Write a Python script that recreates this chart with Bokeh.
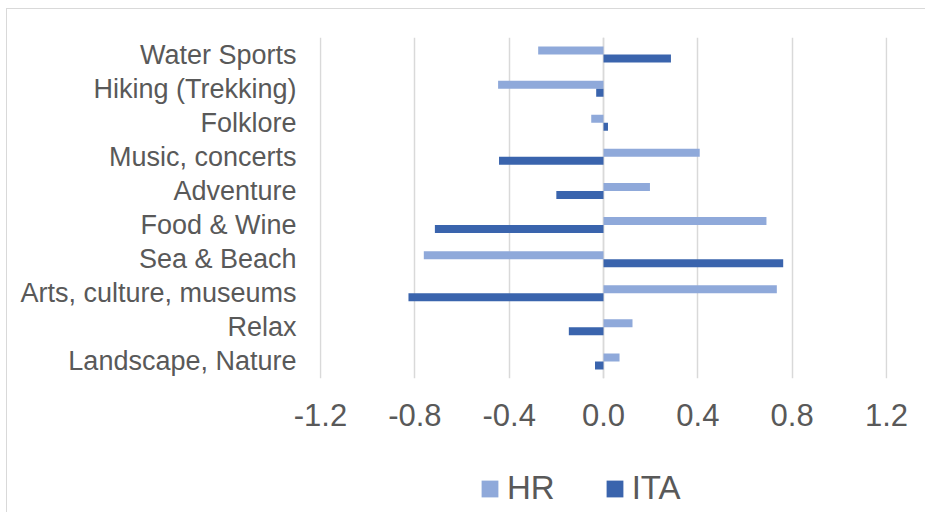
from bokeh.plotting import figure
from bokeh.layouts import column
from bokeh.models import (FactorRange, Range1d, FixedTicker, NumeralTickFormatter,
                          Span, Legend, LegendItem, ColumnDataSource)
from bokeh.transform import dodge
from bokeh.embed import file_html
from bokeh.resources import INLINE

# Data (bottom to top order as displayed)
categories = ["Landscape, Nature", "Relax", "Arts, culture, museums", "Sea & Beach",
              "Food & Wine", "Adventure", "Music, concerts", "Folklore",
              "Hiking (Trekking)", "Water Sports"]
hr_values = [0.068, 0.123, 0.735, -0.762, 0.691, 0.197, 0.408, -0.052, -0.447, -0.277]
ita_values = [-0.036, -0.147, -0.827, 0.762, -0.715, -0.200, -0.443, 0.019, -0.031, 0.286]
x_ticks = [-1.2, -0.8, -0.4, 0.0, 0.4, 0.8, 1.2]
series_names = ["HR", "ITA"]

HR_COLOR = "#8FA9DA"
ITA_COLOR = "#3A64AD"
TEXT_COLOR = "#595959"
GRID_COLOR = "#D9D9D9"
FONT = "Liberation Sans"

source = ColumnDataSource(dict(cat=categories, hr=hr_values, ita=ita_values))

edge_pad = 0.0043  # lets the outer gridlines show fully
p = figure(width=918, height=431, output_backend="svg", toolbar_location=None,
           y_range=FactorRange(factors=categories, range_padding=0, factor_padding=0),
           x_range=Range1d(x_ticks[0] - edge_pad, x_ticks[-1] + edge_pad),
           min_border_left=312, min_border_top=28, min_border_right=38, min_border_bottom=62)
p.outline_line_color = None
p.background_fill_color = "white"
p.border_fill_color = "white"

bar_h = 0.234
p.hbar(y=dodge("cat", bar_h / 2, range=p.y_range), left=0, right="hr", height=bar_h,
       source=source, fill_color=HR_COLOR, line_color=None)
p.hbar(y=dodge("cat", -bar_h / 2, range=p.y_range), left=0, right="ita", height=bar_h,
       source=source, fill_color=ITA_COLOR, line_color=None)

zero = Span(location=0, dimension="height", line_color=GRID_COLOR, line_width=1.5, level="underlay")
p.add_layout(zero)

# grid
p.ygrid.grid_line_color = None
p.xgrid.grid_line_color = GRID_COLOR
p.xgrid.grid_line_width = 1.5
p.xgrid.ticker = FixedTicker(ticks=x_ticks)

# x axis
xa = p.xaxis[0]
xa.ticker = FixedTicker(ticks=x_ticks)
xa.formatter = NumeralTickFormatter(format="0.0")
xa.axis_line_color = None
xa.major_tick_line_color = None
xa.minor_tick_line_color = None
xa.major_tick_out = 0
xa.major_tick_in = 0
xa.major_label_standoff = 25
xa.major_label_text_font = FONT
xa.major_label_text_font_size = "31px"
xa.major_label_text_color = TEXT_COLOR

# y axis
ya = p.yaxis[0]
ya.axis_line_color = None
ya.major_tick_line_color = None
ya.minor_tick_line_color = None
ya.major_tick_out = 0
ya.major_tick_in = 0
ya.major_label_standoff = 23
ya.major_label_text_font = FONT
ya.major_label_text_font_size = "27px"
ya.major_label_text_color = TEXT_COLOR

# legend strip below the chart (same chart box)
lg = figure(width=918, height=72, output_backend="svg", toolbar_location=None,
            x_axis_type=None, y_axis_type=None, min_border=0,
            x_range=Range1d(0, 1), y_range=Range1d(0, 1))
lg.outline_line_color = None
lg.grid.grid_line_color = None
lg.border_fill_color = "white"
# zero-width placeholder renderers that only carry the legend swatch styles
lg_hr = lg.hbar(y=[0.5], left=[0], right=[0], height=0.1, fill_color=HR_COLOR, line_color=None)
lg_ita = lg.hbar(y=[0.5], left=[0], right=[0], height=0.1, fill_color=ITA_COLOR, line_color=None)

legend = Legend(items=[LegendItem(label=series_names[0], renderers=[lg_hr]),
                       LegendItem(label=series_names[1], renderers=[lg_ita])],
                location=(160, 5), orientation="horizontal",
                glyph_width=21, glyph_height=21, label_standoff=7, spacing=49,
                padding=0, margin=0, border_line_color=None, background_fill_alpha=0,
                label_text_font=FONT, label_text_font_size="33px", label_text_color=TEXT_COLOR)
lg.add_layout(legend, "center")

layout = column(p, lg, spacing=0,
                styles={"border-top": "1px solid #D9D9D9", "border-left": "1px solid #D9D9D9",
                        "margin-left": "6px", "margin-top": "8px"})

open("out.html", "w").write(file_html(layout, INLINE))
